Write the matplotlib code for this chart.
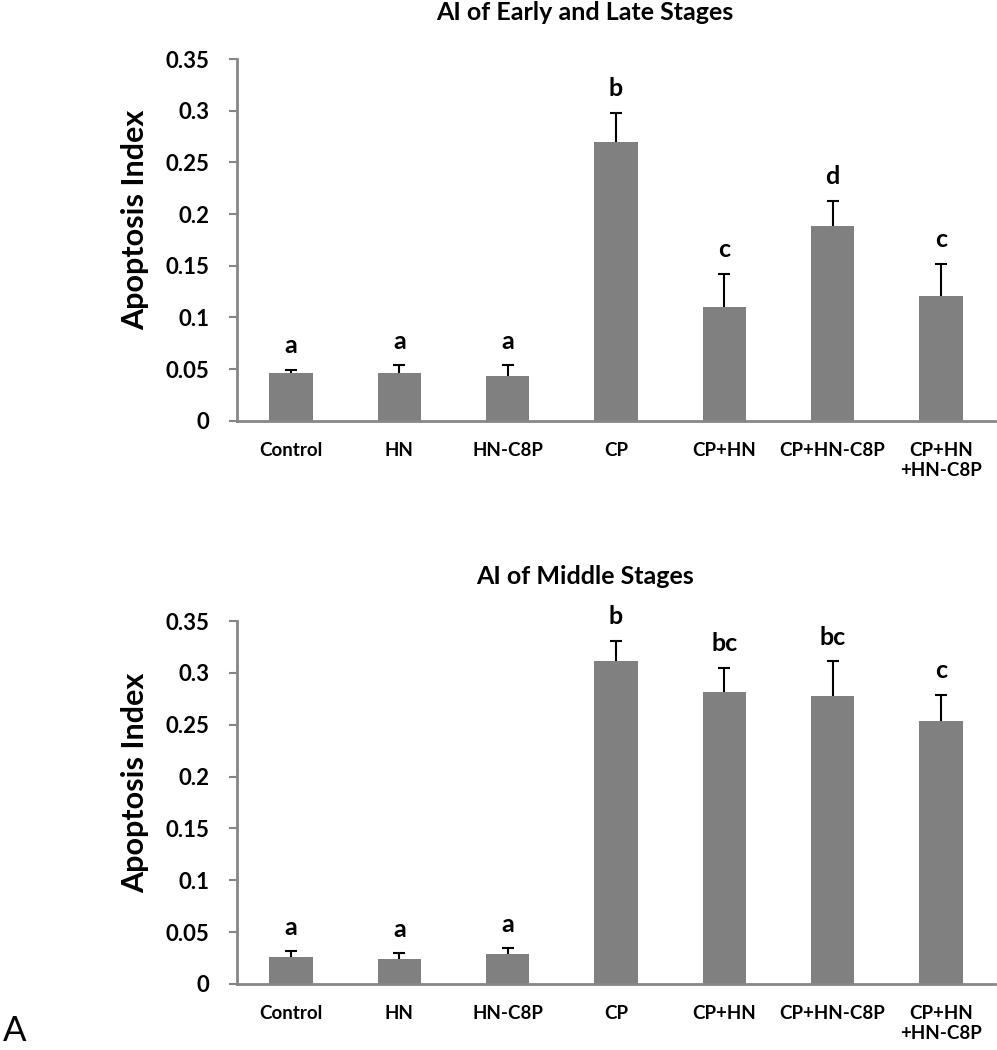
import matplotlib
matplotlib.use("Agg")
import matplotlib.pyplot as plt
import numpy as np

plt.rcParams['font.family'] = ['Lato', 'DejaVu Sans']

categories = ["Control", "HN", "HN-C8P", "CP", "CP+HN", "CP+HN-C8P", "CP+HN\n+HN-C8P"]

early_late_values = [0.046, 0.046, 0.043, 0.270, 0.110, 0.188, 0.121]
early_late_errors = [0.0033, 0.0075, 0.0105, 0.028, 0.032, 0.025, 0.031]
early_late_letters = ["a", "a", "a", "b", "c", "d", "c"]

middle_values = [0.026, 0.024, 0.029, 0.311, 0.282, 0.278, 0.254]
middle_errors = [0.0054, 0.0058, 0.0055, 0.020, 0.023, 0.033, 0.025]
middle_letters = ["a", "a", "a", "b", "bc", "bc", "c"]

yticks = [0, 0.05, 0.1, 0.15, 0.2, 0.25, 0.3, 0.35]
ytick_labels = ["0", "0.05", "0.1", "0.15", "0.2", "0.25", "0.3", "0.35"]

W, H = 997, 1050
fig = plt.figure(figsize=(W / 100, H / 100), dpi=100)

axis_color = "#868686"
bar_color = "#808080"


def draw(ax, values, errors, letters, title, title_y):
    x = np.arange(len(categories))
    lower = np.zeros(len(values))
    ax.bar(x, values, width=0.4, color=bar_color, edgecolor="none", zorder=2)
    _, caps, _ = ax.errorbar(x, values, yerr=[lower, errors], fmt="none", ecolor="black",
                             elinewidth=1.5, capsize=4.5, capthick=1.5, zorder=3)
    if len(caps) == 2:
        caps[0].set_visible(False)
    for xi, v, e, l in zip(x, values, errors, letters):
        ax.annotate(l, xy=(xi, v + e), xytext=(0, 9), textcoords="offset points",
                    ha="center", va="bottom", fontsize=18, fontweight="bold")
    ax.set_xlim(-0.5, len(categories) - 0.5)
    ax.set_ylim(0, 0.35)
    ax.set_yticks(yticks)
    ax.set_yticklabels(ytick_labels)
    ax.set_xticks(x)
    ax.set_xticklabels(categories, fontsize=13.5, fontweight="bold", linespacing=1.25)
    ax.tick_params(axis="x", length=0, pad=15)
    ax.tick_params(axis="y", length=6, width=1.5, color=axis_color, pad=14,
                   labelsize=16)
    for lab in ax.get_yticklabels():
        lab.set_fontweight("bold")
    for s in ["top", "right"]:
        ax.spines[s].set_visible(False)
    for s in ["left", "bottom"]:
        ax.spines[s].set_color(axis_color)
        ax.spines[s].set_linewidth(2)
    ax.set_ylabel("Apoptosis Index", fontsize=22, fontweight="bold")
    fig.text(585 / W, 1 - title_y / H, title, ha="center", va="center",
             fontsize=18, fontweight="bold")


ax1 = fig.add_axes([237 / W, 1 - 420.7 / H, 758 / W, (420.7 - 59) / H])
draw(ax1, early_late_values, early_late_errors, early_late_letters,
     "AI of Early and Late Stages", 13)

ax2 = fig.add_axes([237 / W, 1 - 984 / H, 758 / W, (984 - 621) / H])
draw(ax2, middle_values, middle_errors, middle_letters,
     "AI of Middle Stages", 576)

for ax in (ax1, ax2):
    ax.yaxis.set_label_coords(-(237 - 135) / 758, 0.555)
    ax.yaxis.label.set_va("center")

fig.text(0.003, 1 - 1047 / H, "A", ha="left", va="bottom", fontsize=25)

fig.savefig("out.png", dpi=100)
